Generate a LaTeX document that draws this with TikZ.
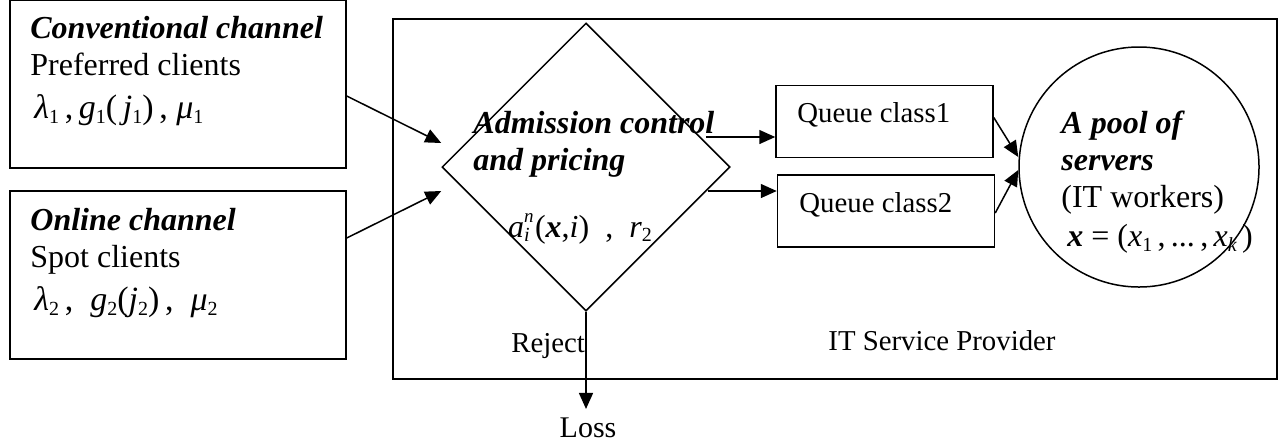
\documentclass[tikz,border=0pt]{standalone}
\usepackage{fontspec}
\setmainfont{Liberation Serif}
\usepackage{tikz}
\usetikzlibrary{shapes.geometric, arrows.meta, positioning}
% small indices set as text
\newcommand{\sbs}[1]{\raisebox{-2.2pt}{\fontsize{10}{10}\selectfont\upshape #1}}
\newcommand{\sps}[1]{\raisebox{7.5pt}{\fontsize{9.5}{10}\selectfont\itshape #1}}
\newcommand{\bx}{\textbf{\textit{x}}}
\newcommand{\mth}{\fontsize{17}{19}\selectfont}

\begin{document}
\begin{tikzpicture}[
  x=0.5pt, y=-0.5pt,
  chan/.style={rectangle, draw, line width=0.75pt, minimum width=168pt, minimum height=84pt, inner sep=0pt},
  qbox/.style={rectangle, draw, line width=0.75pt, minimum width=108.5pt, minimum height=36pt, inner sep=0pt},
  txt/.style={inner sep=0pt, align=left, font=\fontsize{16}{18.5}\selectfont},
  small/.style={inner sep=0pt, font=\fontsize{14.4}{17}\selectfont},
  arrow/.style={-{Triangle[length=8pt,width=7pt]}, line width=0.75pt}
]
  \useasboundingbox (0,0) rectangle (1283,446);
  % client channels
  \node[chan] (conv) at (178,84) {};
  \node[chan] (online) at (178,275) {};
  \node[txt, anchor=north west] (convtxt) at (30,16)
    {\textbf{\textit{Conventional channel}}\\Preferred clients\\[3pt]
     \hspace{2pt}{\mth\textit{λ}\sbs{1}\,,\,\textit{g}\sbs{1}(\,\textit{j}\sbs{1})\,,\ \textit{μ}\sbs{1}}};
  \node[txt, anchor=north west] (onlinetxt) at (30,208)
    {\textbf{\textit{Online channel}}\\Spot clients\\[3pt]
     \hspace{2pt}{\mth\textit{λ}\sbs{2}\,,\ \ \textit{g}\sbs{2}(\textit{j}\sbs{2})\,,\ \ \textit{μ}\sbs{2}}};
  % provider
  \node[rectangle, draw, line width=0.75pt, minimum width=442pt, minimum height=180pt, inner sep=0pt] (isp) at (835,199) {};
  \node[diamond, draw, line width=0.75pt, minimum width=144pt, minimum height=144pt, inner sep=0pt] (adm) at (586,167) {};
  \node[txt, anchor=north west] (admtxt) at (473,111)
    {\textbf{\textit{Admission control}}\\\textbf{\textit{and pricing}}};
  \node[txt, anchor=base] (admmath) at (580,237)
    {\textit{a}\makebox[0pt][l]{\sps{n}}\sbs{\itshape i}\,(\bx,\textit{i})\ \ ,\ \ \textit{r}\sbs{2}};
  \node[qbox] (q1) at (884.5,121.5) {};
  \node[qbox] (q2) at (886,211) {};
  \node[small, anchor=base west] (q1txt) at (797,122) {Queue class1};
  \node[small, anchor=base west] (q2txt) at (799,212) {Queue class2};
  \node[circle, draw, line width=0.75pt, minimum size=120pt, inner sep=0pt] (pool) at (1139,167) {};
  \node[txt, anchor=north west] (pooltxt) at (1061,111)
    {\textbf{\textit{A pool of}}\\\textbf{\textit{servers}}\\(IT workers)\\[1pt]
     \hspace{3pt}\bx\ =\ (\textit{x}\sbs{1}\,,\,...\,,\,\textit{x}\sbs{\itshape k}\,)};
  \node[small, anchor=base west] (reject) at (511,352) {Reject};
  \node[small, anchor=base west] (isptxt) at (828,350) {IT Service Provider};
  \node[inner sep=4pt, anchor=base, font=\fontsize{15}{18}\selectfont] (loss) at (588,437) {Loss};
  % connectors
  \draw[arrow] ([yshift=-6pt]conv.east) -- ([yshift=12pt]adm.west);
  \draw[arrow] ([yshift=18.5pt]online.east) -- ([yshift=-12pt]adm.west);
  \draw[arrow] ([xshift=-12.5pt,yshift=15pt]adm.east) -- ([yshift=-7.75pt]q1.west);
  \draw[arrow] ([xshift=-11.5pt,yshift=-12pt]adm.east) -- ([yshift=10pt]q2.west);
  \draw[arrow] ([yshift=2pt]q1.east) -- ([yshift=5pt]pool.west);
  \draw[arrow] ([yshift=-1pt]q2.east) -- ([yshift=-1.5pt]pool.west);
  \draw[arrow] (adm.south) -- (adm.south |- loss.north);
\end{tikzpicture}
\end{document}
